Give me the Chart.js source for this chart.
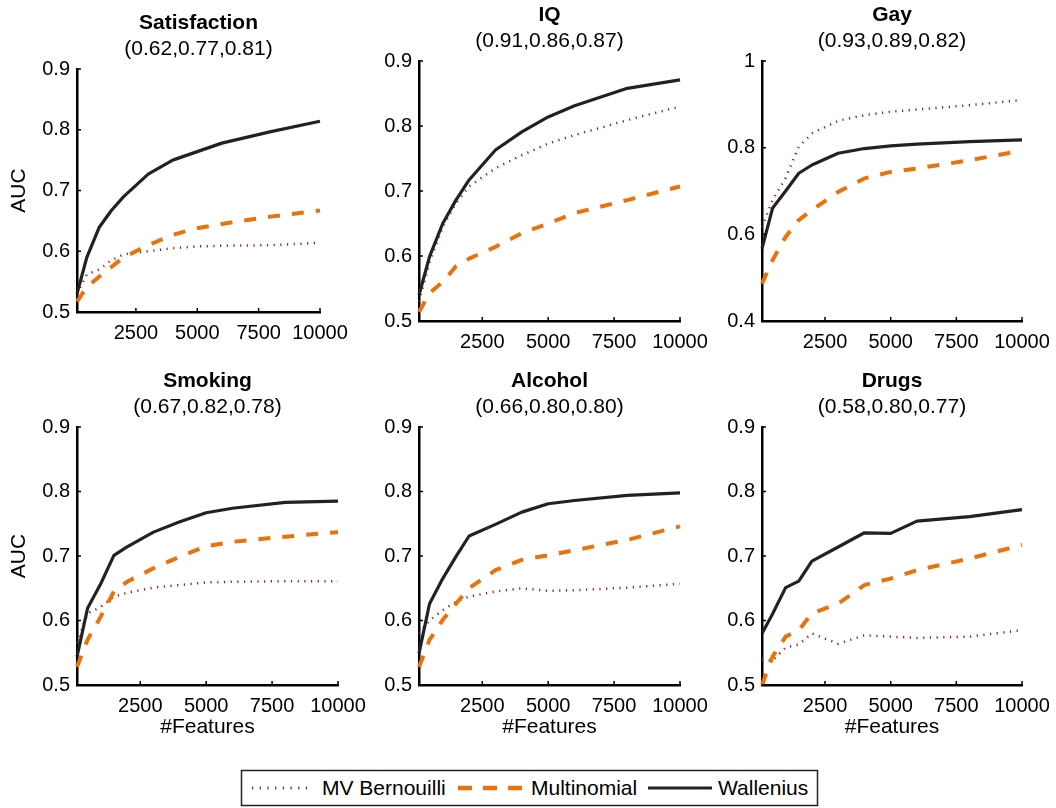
<!DOCTYPE html>
<html>
<head>
<meta charset="utf-8">
<script src="https://cdn.jsdelivr.net/npm/chart.js@4.4.1/dist/chart.umd.min.js"></script>
<style>
  html, body { margin: 0; padding: 0; background: #fff; }
  #wrap { position: relative; width: 1056px; height: 808px; overflow: hidden; }
  #wrap canvas { position: absolute; }
  #legend { position: absolute; left: 240px; top: 769px; }
</style>
</head>
<body>
<div id="wrap">
  <svg id="legend" width="580" height="38" font-family="Liberation Sans, Arial, sans-serif" font-size="21">
    <rect x="1.5" y="1.5" width="576" height="35" fill="#fff" stroke="#222" stroke-width="1.5"/>
    <line x1="12" y1="19" x2="70" y2="19" stroke="#9b1b1b" stroke-width="3" stroke-dasharray="1.2 6.5"/>
    <text x="82" y="26" fill="#000">MV Bernouilli</text>
    <line x1="218" y1="19" x2="282" y2="19" stroke="#e8720c" stroke-width="4.5" stroke-dasharray="14 11"/>
    <text x="291" y="26" fill="#000">Multinomial</text>
    <line x1="408" y1="19" x2="472" y2="19" stroke="#222" stroke-width="3.2"/>
    <text x="478" y="26" fill="#000">Wallenius</text>
  </svg>
</div>
<script>
// number of features (shared x values)
const features = [100, 500, 1000, 1500, 2000, 3000, 4000, 5000, 6000, 8000, 10000];
const xTicks = [2500, 5000, 7500, 10000];
const yTicks = [0.5, 0.6, 0.7, 0.8, 0.9];
const yTicksGay = [0.4, 0.6, 0.8, 1];

const titles = ['Satisfaction', 'IQ', 'Gay', 'Smoking', 'Alcohol', 'Drugs'];
const subtitles = ['(0.62,0.77,0.81)', '(0.91,0.86,0.87)', '(0.93,0.89,0.82)',
                   '(0.67,0.82,0.78)', '(0.66,0.80,0.80)', '(0.58,0.80,0.77)'];
const seriesNames = ['MV Bernouilli', 'Multinomial', 'Wallenius'];

// AUC per panel: MV Bernouilli / Multinomial / Wallenius
const satBern  = [0.530, 0.562, 0.570, 0.585, 0.595, 0.600, 0.605, 0.608, 0.609, 0.610, 0.614];
const satMulti = [0.517, 0.541, 0.558, 0.574, 0.590, 0.610, 0.627, 0.638, 0.645, 0.657, 0.667];
const satWall  = [0.530, 0.590, 0.639, 0.667, 0.690, 0.727, 0.750, 0.764, 0.778, 0.797, 0.814];

const iqBern   = [0.530, 0.590, 0.645, 0.681, 0.707, 0.735, 0.755, 0.773, 0.786, 0.809, 0.830];
const iqMulti  = [0.514, 0.543, 0.560, 0.584, 0.596, 0.614, 0.635, 0.650, 0.666, 0.686, 0.707];
const iqWall   = [0.540, 0.599, 0.650, 0.686, 0.717, 0.763, 0.791, 0.814, 0.831, 0.858, 0.871];

const gayBern  = [0.617, 0.679, 0.730, 0.802, 0.833, 0.862, 0.875, 0.883, 0.888, 0.898, 0.910];
const gayMulti = [0.486, 0.540, 0.594, 0.633, 0.656, 0.698, 0.729, 0.744, 0.752, 0.771, 0.793];
const gayWall  = [0.567, 0.660, 0.700, 0.741, 0.760, 0.787, 0.798, 0.804, 0.808, 0.814, 0.818];

const smkBern  = [0.565, 0.611, 0.621, 0.637, 0.643, 0.651, 0.655, 0.659, 0.660, 0.661, 0.661];
const smkMulti = [0.528, 0.570, 0.606, 0.645, 0.660, 0.681, 0.699, 0.715, 0.722, 0.730, 0.737];
const smkWall  = [0.544, 0.619, 0.657, 0.701, 0.714, 0.737, 0.753, 0.767, 0.774, 0.783, 0.785];

const alcBern  = [0.580, 0.600, 0.616, 0.629, 0.637, 0.645, 0.650, 0.646, 0.647, 0.651, 0.657];
const alcMulti = [0.528, 0.570, 0.601, 0.626, 0.650, 0.678, 0.694, 0.701, 0.709, 0.725, 0.746];
const alcWall  = [0.549, 0.626, 0.665, 0.699, 0.731, 0.749, 0.768, 0.781, 0.786, 0.794, 0.798];

const drgBern  = [0.540, 0.538, 0.558, 0.563, 0.580, 0.564, 0.577, 0.575, 0.573, 0.575, 0.585];
const drgMulti = [0.500, 0.544, 0.575, 0.585, 0.611, 0.626, 0.655, 0.665, 0.678, 0.696, 0.717];
const drgWall  = [0.580, 0.610, 0.651, 0.661, 0.692, 0.714, 0.736, 0.735, 0.754, 0.761, 0.772];

const panelData = [
  [satBern, satMulti, satWall],
  [iqBern, iqMulti, iqWall],
  [gayBern, gayMulti, gayWall],
  [smkBern, smkMulti, smkWall],
  [alcBern, alcMulti, alcWall],
  [drgBern, drgMulti, drgWall],
];

// ---------- layout (plot-area boxes in page pixels) ----------
const boxes = [
  { l: 77,  t: 69,  r: 320,  b: 312 },
  { l: 419, t: 61,  r: 680,  b: 321 },
  { l: 762, t: 61,  r: 1022, b: 321 },
  { l: 77,  t: 427, r: 338,  b: 685 },
  { l: 419, t: 427, r: 680,  b: 685 },
  { l: 762, t: 427, r: 1022, b: 685 },
];
const PAD_L = 72, PAD_R = 72, PAD_T = 58, PAD_B = 55;
const FONT = '"Liberation Sans", Arial, sans-serif';

const styles = [
  { color: '#9b1b1b', width: 2.5, dash: [1.2, 5.5], order: 3 },
  { color: '#e8720c', width: 4,   dash: [12, 12],   order: 2 },
  { color: '#222222', width: 3.2, dash: [],         order: 1 },
];

// inward tick marks, MATLAB style
const inwardTicks = {
  id: 'inwardTicks',
  afterDatasetsDraw(chart) {
    const { ctx, chartArea: a, scales: { x, y } } = chart;
    ctx.save();
    ctx.strokeStyle = '#000';
    ctx.lineWidth = 1.5;
    ctx.beginPath();
    x.ticks.forEach(t => {
      const px = x.getPixelForValue(t.value);
      ctx.moveTo(px, a.bottom); ctx.lineTo(px, a.bottom - 4);
    });
    y.ticks.forEach(t => {
      const py = y.getPixelForValue(t.value);
      ctx.moveTo(a.left, py); ctx.lineTo(a.left + 4, py);
    });
    ctx.stroke();
    ctx.restore();
  }
};

Chart.defaults.font.family = FONT;
Chart.defaults.color = '#000';

const wrap = document.getElementById('wrap');

function makePanel(i) {
  const box = boxes[i];
  const w = PAD_L + (box.r - box.l) + PAD_R;
  const h = PAD_T + (box.b - box.t) + PAD_B;
  const c = document.createElement('canvas');
  c.width = w; c.height = h;
  c.style.left = (box.l - PAD_L) + 'px';
  c.style.top = (box.t - PAD_T) + 'px';
  c.style.width = w + 'px';
  c.style.height = h + 'px';
  wrap.appendChild(c);

  const isGay = titles[i] === 'Gay';
  const yt = isGay ? yTicksGay : yTicks;
  const leftCol = i % 3 === 0;
  const bottomRow = i >= 3;

  return new Chart(c, {
    type: 'line',
    data: {
      labels: features,
      datasets: panelData[i].map((arr, k) => ({
        label: seriesNames[k],
        data: arr,
        borderColor: styles[k].color,
        borderWidth: styles[k].width,
        borderDash: styles[k].dash,
        borderCapStyle: 'butt',
        borderJoinStyle: 'round',
        pointRadius: 0,
        tension: 0,
        fill: false,
        clip: false,
        order: styles[k].order,
      }))
    },
    options: {
      responsive: false,
      animation: false,
      devicePixelRatio: 1,
      layout: { padding: 0 },
      plugins: {
        legend: { display: false },
        tooltip: { enabled: false },
        title: {
          display: true, text: titles[i], color: '#000',
          font: { size: 21, weight: 'bold' }, padding: { top: 0, bottom: 0 }
        },
        subtitle: {
          display: true, text: subtitles[i], color: '#000',
          font: { size: 21, weight: 'normal' }, padding: { top: 0, bottom: 7.6 }
        }
      },
      scales: {
        x: {
          type: 'linear', min: 100, max: 10000,
          afterBuildTicks: s => { s.ticks = xTicks.map(v => ({ value: v })); },
          afterFit: s => { s.height = PAD_B; },
          ticks: { color: '#000', font: { size: 20 }, padding: 9, maxRotation: 0, autoSkip: false,
                   callback: v => String(v) },
          grid: { display: false, drawTicks: false },
          border: { display: true, color: '#000', width: 2.5 },
          title: { display: bottomRow, text: '#Features', color: '#000', font: { size: 21 }, padding: 0 }
        },
        y: {
          min: yt[0], max: yt[yt.length - 1],
          afterBuildTicks: s => { s.ticks = yt.map(v => ({ value: v })); },
          afterFit: s => { s.width = PAD_L; },
          ticks: { color: '#000', font: { size: 20 }, padding: 7, callback: v => String(v) },
          grid: { display: false, drawTicks: false },
          border: { display: true, color: '#000', width: 2.5 },
          title: { display: leftCol, text: 'AUC', color: '#000', font: { size: 21 }, padding: { top: 2, bottom: 0 } }
        },
        // empty right-hand spacer so the titles centre over the plot area
        yRight: {
          position: 'right',
          afterFit: s => { s.width = PAD_R; },
          ticks: { display: false },
          grid: { display: false, drawTicks: false },
          border: { display: false }
        }
      }
    },
    plugins: [inwardTicks]
  });
}

titles.forEach((_, i) => makePanel(i));
</script>
</body>
</html>
